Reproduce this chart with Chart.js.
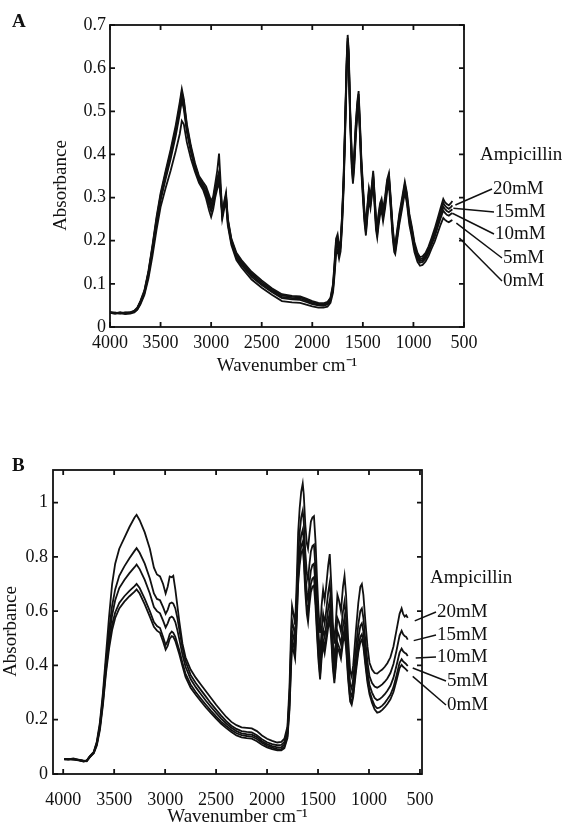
<!DOCTYPE html>
<html>
<head>
<meta charset="utf-8">
<script src="https://cdn.jsdelivr.net/npm/chart.js@4.4.1/dist/chart.umd.min.js"></script>
<style>
  html, body { margin: 0; padding: 0; background: #fff; overflow: hidden; }
  body { width: 565px; height: 823px; position: relative; }
  canvas { position: absolute; left: 0; }
  #chartA { top: 0; }
  #chartB { top: 410px; }
</style>
</head>
<body>
<canvas id="chartA" width="565" height="410"></canvas>
<canvas id="chartB" width="565" height="430"></canvas>
<script>
// series names, top to bottom at the right end
const seriesNames = ["20mM", "15mM", "10mM", "5mM", "0mM"];
const legendTitle = "Ampicillin";
const xTicks = [4000, 3500, 3000, 2500, 2000, 1500, 1000, 500];
const yTicksA = [0, 0.1, 0.2, 0.3, 0.4, 0.5, 0.6, 0.7];
const yTicksB = [0, 0.2, 0.4, 0.6, 0.8, 1];

// panel A - wavenumbers (cm-1) and absorbance
const wnA = [4000,3950,3900,3850,3800,3760,3730,3700,3660,3620,
  3580,3540,3500,3450,3400,3350,3310,3290,3270,3240,
  3200,3160,3120,3080,3050,3020,3000,2980,2960,2940,
  2922,2905,2890,2870,2853,2835,2800,2750,2700,2600,
  2500,2400,2300,2200,2120,2060,2000,1940,1890,1850,
  1820,1795,1780,1765,1750,1735,1720,1705,1690,1675,
  1660,1650,1640,1625,1610,1598,1585,1570,1555,1542,
  1530,1515,1500,1485,1470,1455,1440,1425,1410,1398,
  1385,1370,1358,1345,1330,1315,1300,1280,1260,1242,
  1225,1205,1190,1180,1165,1140,1110,1085,1065,1040,
  1015,990,960,935,910,880,850,820,790,760,
  730,705,690,670,650,630,615];
const a20 = [.035,.032,.034,.031,.034,.038,.045,.060,.085,.130,
  .190,.255,.310,.362,.412,.468,.522,.552,.528,.470,
  .420,.380,.350,.336,.326,.306,.292,.302,.332,.362,
  .402,.330,.256,.292,.312,.252,.205,.172,.155,.128,
  .108,.090,.076,.072,.071,.066,.060,.056,.055,.058,
  .068,.100,.150,.205,.215,.185,.200,.262,.352,.482,
  .622,.677,.642,.502,.402,.362,.402,.472,.522,.547,
  .482,.392,.332,.272,.237,.282,.322,.302,.332,.362,
  .312,.252,.232,.262,.287,.297,.272,.302,.342,.357,
  .302,.232,.197,.192,.217,.262,.302,.337,.312,.262,
  .232,.197,.172,.162,.164,.172,.187,.207,.228,.252,
  .277,.297,.290,.285,.282,.287,.292];
const a15 = [.034,.033,.032,.034,.033,.036,.043,.058,.083,.127,
  .186,.250,.305,.357,.405,.460,.513,.545,.522,.465,
  .415,.376,.346,.331,.319,.298,.284,.295,.323,.345,
  .360,.318,.262,.288,.306,.248,.202,.168,.151,.124,
  .104,.087,.073,.070,.069,.064,.058,.054,.053,.056,
  .066,.095,.143,.198,.208,.180,.195,.256,.345,.475,
  .615,.670,.635,.495,.395,.355,.395,.465,.515,.540,
  .475,.385,.325,.266,.231,.276,.316,.296,.326,.356,
  .306,.246,.226,.256,.281,.291,.266,.296,.336,.351,
  .296,.226,.191,.186,.211,.256,.296,.331,.306,.256,
  .226,.191,.167,.157,.159,.167,.182,.201,.221,.245,
  .269,.288,.282,.277,.274,.278,.282];
const a10 = [.033,.031,.034,.032,.032,.037,.044,.057,.080,.124,
  .182,.245,.300,.350,.398,.452,.504,.535,.515,.458,
  .410,.372,.342,.327,.312,.290,.276,.288,.316,.338,
  .350,.310,.262,.285,.302,.245,.198,.164,.147,.120,
  .100,.084,.070,.067,.066,.061,.055,.052,.051,.054,
  .063,.090,.136,.190,.200,.174,.190,.250,.338,.468,
  .607,.662,.627,.487,.388,.348,.388,.457,.507,.532,
  .467,.378,.318,.260,.225,.270,.310,.290,.320,.350,
  .300,.240,.220,.250,.275,.285,.260,.290,.330,.345,
  .290,.220,.186,.181,.206,.250,.290,.325,.300,.250,
  .220,.186,.162,.153,.155,.163,.177,.196,.215,.238,
  .261,.279,.274,.269,.266,.270,.273];
const a5 = [.032,.033,.031,.033,.034,.035,.041,.055,.078,.120,
  .176,.238,.293,.343,.390,.443,.494,.525,.505,.452,
  .405,.368,.338,.322,.306,.282,.268,.282,.310,.330,
  .342,.305,.258,.282,.298,.240,.195,.160,.143,.116,
  .097,.081,.067,.064,.063,.058,.053,.050,.049,.052,
  .061,.088,.130,.182,.192,.168,.185,.245,.332,.460,
  .600,.655,.620,.480,.380,.340,.380,.450,.500,.525,
  .460,.370,.310,.254,.220,.264,.304,.284,.314,.344,
  .294,.234,.215,.244,.269,.279,.254,.284,.324,.339,
  .284,.215,.181,.176,.201,.245,.285,.320,.295,.245,
  .215,.181,.158,.149,.151,.159,.173,.191,.209,.231,
  .253,.270,.265,.260,.258,.262,.264];
const a0 = [.033,.031,.032,.030,.031,.034,.040,.052,.074,.112,
  .165,.225,.278,.322,.363,.408,.448,.478,.470,.428,
  .390,.360,.334,.318,.298,.270,.255,.272,.300,.320,
  .335,.300,.250,.275,.290,.235,.190,.155,.138,.110,
  .091,.075,.060,.057,.056,.052,.048,.045,.045,.047,
  .056,.080,.120,.168,.178,.158,.175,.235,.320,.448,
  .588,.645,.610,.470,.370,.332,.370,.440,.490,.515,
  .450,.360,.300,.245,.212,.255,.295,.275,.305,.335,
  .285,.225,.207,.235,.260,.270,.245,.275,.315,.330,
  .275,.207,.174,.169,.194,.237,.277,.312,.287,.237,
  .207,.174,.151,.142,.144,.152,.165,.182,.198,.218,
  .238,.253,.249,.245,.243,.246,.248];

// panel B - wavenumbers (cm-1) and absorbance
const wnB = [3990,3950,3900,3850,3800,3770,3740,3700,3670,3640,
  3610,3580,3550,3520,3490,3450,3400,3350,3300,3280,
  3250,3200,3150,3110,3080,3050,3020,2995,2975,2955,
  2935,2920,2900,2880,2860,2830,2800,2750,2700,2650,
  2600,2550,2500,2450,2400,2350,2300,2250,2200,2150,
  2100,2050,2000,1950,1900,1860,1830,1800,1780,1765,
  1755,1740,1725,1710,1695,1680,1665,1650,1640,1625,
  1610,1598,1585,1570,1555,1540,1525,1510,1495,1480,
  1465,1450,1435,1420,1400,1385,1370,1355,1340,1325,
  1310,1295,1275,1255,1240,1225,1205,1185,1170,1155,
  1130,1105,1085,1070,1055,1035,1015,995,970,945,
  920,895,870,845,820,790,760,730,700,680,
  665,650,635,620];
const b20 = [.056,.054,.057,.052,.048,.050,.065,.082,.120,.190,
  .300,.440,.580,.700,.775,.830,.870,.910,.945,.955,
  .935,.890,.830,.760,.735,.728,.700,.665,.690,.728,
  .725,.730,.680,.620,.560,.480,.430,.385,.355,.330,
  .305,.280,.255,.232,.210,.192,.180,.172,.170,.168,
  .158,.142,.130,.122,.116,.118,.130,.175,.320,.520,
  .620,.590,.550,.700,.890,.980,1.040,1.070,1.030,.920,
  .850,.830,.880,.930,.945,.950,.860,.720,.600,.520,
  .620,.680,.640,.690,.770,.810,.700,.560,.480,.560,
  .660,.640,.600,.690,.730,.660,.500,.380,.360,.400,
  .520,.630,.690,.700,.660,.560,.470,.410,.385,.372,
  .370,.378,.385,.395,.408,.430,.470,.530,.590,.610,
  .590,.580,.585,.575];
const b15 = [.055,.056,.054,.053,.049,.048,.063,.080,.115,.180,
  .285,.415,.530,.620,.680,.730,.765,.795,.822,.832,
  .815,.775,.720,.665,.645,.640,.615,.590,.605,.628,
  .632,.628,.610,.575,.530,.465,.415,.365,.335,.310,
  .285,.260,.237,.215,.195,.178,.166,.158,.155,.153,
  .143,.128,.117,.110,.106,.107,.118,.160,.290,.470,
  .565,.540,.505,.640,.810,.890,.945,.970,.930,.820,
  .740,.715,.770,.820,.840,.845,.760,.630,.520,.440,
  .530,.590,.555,.600,.670,.705,.610,.490,.420,.490,
  .575,.560,.525,.600,.635,.575,.435,.330,.315,.350,
  .455,.550,.600,.610,.575,.490,.412,.360,.335,.322,
  .318,.323,.330,.340,.352,.372,.405,.455,.510,.528,
  .515,.508,.505,.495];
const b10 = [.054,.055,.056,.051,.047,.049,.064,.079,.112,.175,
  .275,.400,.505,.585,.640,.685,.715,.740,.762,.772,
  .755,.715,.665,.615,.600,.592,.565,.540,.555,.575,
  .580,.575,.560,.530,.495,.440,.395,.350,.320,.295,
  .270,.247,.225,.204,.186,.170,.158,.150,.147,.145,
  .136,.121,.110,.103,.098,.099,.109,.150,.270,.440,
  .525,.505,.470,.600,.760,.830,.880,.900,.860,.750,
  .670,.640,.700,.750,.770,.775,.695,.575,.470,.395,
  .480,.535,.505,.545,.610,.640,.555,.445,.380,.445,
  .525,.510,.478,.545,.578,.522,.395,.300,.287,.318,
  .415,.500,.545,.555,.525,.447,.376,.328,.300,.280,
  .272,.276,.284,.294,.307,.325,.355,.400,.447,.462,
  .452,.447,.443,.435];
const b5 = [.055,.053,.055,.052,.048,.047,.062,.078,.110,.170,
  .265,.385,.480,.550,.595,.630,.655,.675,.692,.700,
  .685,.645,.600,.560,.545,.538,.505,.475,.490,.515,
  .525,.520,.505,.480,.455,.410,.370,.330,.302,.278,
  .255,.233,.212,.193,.177,.162,.150,.143,.140,.138,
  .129,.115,.104,.097,.092,.092,.101,.140,.250,.410,
  .495,.475,.445,.570,.725,.795,.840,.855,.815,.700,
  .620,.590,.650,.700,.720,.725,.650,.535,.435,.365,
  .445,.495,.465,.505,.565,.595,.515,.410,.350,.412,
  .485,.470,.442,.505,.535,.485,.365,.278,.265,.295,
  .385,.465,.505,.515,.487,.415,.350,.305,.275,.252,
  .242,.245,.252,.262,.275,.292,.320,.363,.410,.423,
  .415,.410,.405,.398];
const b0 = [.054,.055,.053,.050,.046,.048,.061,.076,.105,.162,
  .255,.372,.462,.530,.575,.610,.635,.655,.672,.680,
  .665,.625,.580,.542,.528,.520,.488,.458,.472,.498,
  .508,.505,.490,.465,.440,.398,.358,.318,.292,.268,
  .245,.224,.204,.185,.169,.155,.142,.135,.132,.130,
  .121,.108,.098,.092,.087,.087,.095,.132,.235,.390,
  .470,.452,.425,.550,.700,.770,.815,.825,.785,.670,
  .590,.560,.620,.670,.690,.695,.620,.510,.415,.348,
  .425,.475,.445,.485,.540,.570,.495,.393,.335,.395,
  .465,.452,.424,.485,.513,.465,.350,.267,.255,.283,
  .370,.447,.485,.495,.468,.400,.337,.294,.262,.238,
  .226,.229,.236,.246,.258,.275,.302,.344,.390,.402,
  .395,.390,.385,.378];

const ink = "#111";
const serif = "'Liberation Serif', 'Times New Roman', serif";

// box frame with inward ticks, panel letter, series labels with leader lines
const panelDeco = {
  id: "panelDeco",
  afterDraw(chart, args, o) {
    const ctx = chart.ctx;
    const a = chart.chartArea;
    const x = chart.scales.x, y = chart.scales.y;
    ctx.save();
    ctx.strokeStyle = ink;
    ctx.lineWidth = 1.8;
    ctx.strokeRect(a.left, a.top, a.right - a.left, a.bottom - a.top);
    ctx.beginPath();
    x.ticks.forEach(t => {
      const px = x.getPixelForValue(t.value);
      ctx.moveTo(px, a.bottom); ctx.lineTo(px, a.bottom - 5);
      ctx.moveTo(px, a.top); ctx.lineTo(px, a.top + 5);
    });
    y.ticks.forEach(t => {
      const py = y.getPixelForValue(t.value);
      ctx.moveTo(a.left, py); ctx.lineTo(a.left + 5, py);
      ctx.moveTo(a.right, py); ctx.lineTo(a.right - 5, py);
    });
    ctx.stroke();

    ctx.fillStyle = ink;
    ctx.textAlign = "left";
    ctx.textBaseline = "middle";
    ctx.font = "bold 19px " + serif;
    ctx.fillText(o.letter, o.letterX, o.letterY);
    ctx.font = "19px " + serif;
    ctx.fillText(legendTitle, o.titleX, o.titleY);

    ctx.lineWidth = 1.5;
    chart.data.datasets.forEach((ds, i) => {
      const lab = o.labels[i];
      const last = ds.data[ds.data.length - 1];
      const x0 = x.getPixelForValue(last.x) + lab.dx;
      const y0 = y.getPixelForValue(last.y) + lab.dy;
      ctx.beginPath();
      ctx.moveTo(x0, y0);
      ctx.lineTo(lab.x - 1, lab.y);
      ctx.stroke();
      ctx.fillText(ds.label, lab.x, lab.y);
    });
    ctx.restore();
  }
};

function makePanel(id, wn, seriesList, p) {
  return new Chart(document.getElementById(id), {
    type: "line",
    data: {
      datasets: seriesList.map((vals, i) => ({
        label: seriesNames[i],
        data: wn.map((w, k) => ({ x: w, y: vals[k] })),
        borderColor: ink,
        borderWidth: 1.8,
        pointRadius: 0,
        fill: false,
        tension: 0
      }))
    },
    options: {
      responsive: false,
      animation: false,
      layout: { padding: p.pad },
      plugins: {
        legend: { display: false },
        tooltip: { enabled: false },
        panelDeco: p.deco
      },
      scales: {
        x: {
          type: "linear",
          reverse: true,
          min: p.xMin,
          max: p.xMax,
          afterBuildTicks: s => { s.ticks = xTicks.map(v => ({ value: v })); },
          afterFit: s => { s.height = p.xH; },
          grid: { display: false, drawTicks: false, tickLength: 0 },
          border: { display: false },
          ticks: {
            color: ink, font: { family: serif, size: 18 }, padding: p.xPad,
            maxRotation: 0, autoSkip: false, callback: v => String(v)
          },
          title: {
            display: true, text: "Wavenumber cm\u207B\u00B9", color: ink,
            font: { family: serif, size: 19 }, padding: 0
          }
        },
        y: {
          min: 0,
          max: p.yMax,
          afterBuildTicks: s => { s.ticks = p.yTicks.map(v => ({ value: v })); },
          afterFit: s => { s.width = p.yW; },
          grid: { display: false, drawTicks: false, tickLength: 0 },
          border: { display: false },
          ticks: {
            color: ink, font: { family: serif, size: 18 }, padding: p.yPad,
            autoSkip: false, callback: v => String(v)
          },
          title: {
            display: true, text: "Absorbance\u00A0\u00A0\u00A0\u00A0", color: ink,
            font: { family: serif, size: 19 }, padding: 0
          }
        }
      }
    },
    plugins: [panelDeco]
  });
}

makePanel("chartA", wnA, [a20, a15, a10, a5, a0], {
  pad: { left: 50, right: 101, top: 25, bottom: 33 },
  xMin: 500, xMax: 4000, xH: 50, xPad: 5,
  yMax: 0.7, yTicks: yTicksA, yW: 60, yPad: 4,
  deco: {
    letter: "A", letterX: 12, letterY: 22,
    titleX: 480, titleY: 155,
    labels: [
      { x: 493, y: 189, dx: 3, dy: 4 },
      { x: 495, y: 212, dx: 1, dy: 3 },
      { x: 495, y: 234, dx: 0, dy: 4 },
      { x: 503, y: 258, dx: 4, dy: 10 },
      { x: 503, y: 281, dx: 7, dy: 18 }
    ]
  }
});

makePanel("chartB", wnB, [b20, b15, b10, b5, b0], {
  pad: { left: 0, right: 143, top: 60, bottom: 12 },
  xMin: 480, xMax: 4100, xH: 54, xPad: 15,
  yMax: 1.12, yTicks: yTicksB, yW: 53, yPad: 5,
  deco: {
    letter: "B", letterX: 12, letterY: 56,
    titleX: 430, titleY: 168,
    labels: [
      { x: 437, y: 202, dx: 7, dy: 3 },
      { x: 437, y: 225, dx: 6, dy: 1 },
      { x: 437, y: 247, dx: 8, dy: 2 },
      { x: 447, y: 271, dx: 5, dy: 2 },
      { x: 447, y: 295, dx: 5, dy: 5 }
    ]
  }
});
</script>
</body>
</html>
